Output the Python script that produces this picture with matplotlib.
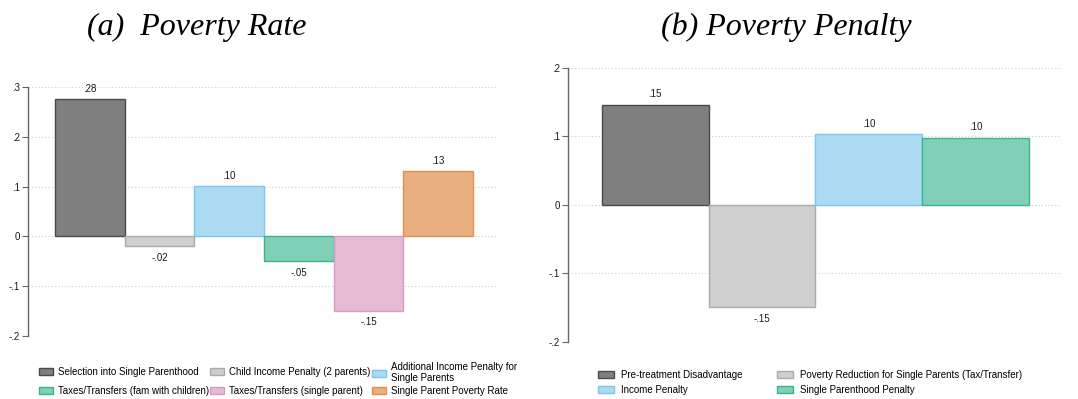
import numpy as np
import matplotlib.pyplot as plt
from matplotlib.patches import Patch

plt.rcParams['font.family'] = ['Liberation Sans', 'DejaVu Sans']

# panel (a): decomposition of the poverty rate
labels_a = ["Selection into Single Parenthood",
            "Child Income Penalty (2 parents)",
            "Additional Income Penalty for\nSingle Parents",
            "Taxes/Transfers (fam with children)",
            "Taxes/Transfers (single parent)",
            "Single Parent Poverty Rate"]
values_a = [0.276, -0.02, 0.101, -0.05, -0.149, 0.131]

# panel (b): decomposition of the poverty penalty
labels_b = ["Pre-treatment Disadvantage",
            "Poverty Reduction for Single Parents (Tax/Transfer)",
            "Income Penalty",
            "Single Parenthood Penalty"]
values_b = [0.146, -0.150, 0.1025, 0.0977]

fills = {'dgray': '#7f7f7f', 'lgray': '#cfcfcf', 'blue': '#acdaf3',
         'green': '#7fd0b6', 'pink': '#e6bad4', 'orange': '#e9ae7f'}
edges = {'dgray': '#4a4a4a', 'lgray': '#ababab', 'blue': '#79c6ef',
         'green': '#3bb38d', 'pink': '#d79cc2', 'orange': '#e4914f'}
colors_a = ['dgray', 'lgray', 'blue', 'green', 'pink', 'orange']
colors_b = ['dgray', 'lgray', 'blue', 'green']

W, H = 1078, 399


def fmt(v):
    # Stata style: drop the leading zero
    return '{:.2f}'.format(v).replace('0.', '.', 1)


def tick_fmt(v):
    if abs(v) < 1e-9:
        return '0'
    return '{:.1f}'.format(v).replace('0.', '.', 1)


def draw_panel(ax, values, cols, yticks, xlim):
    x = np.arange(1, len(values) + 1)
    ax.bar(x, values, width=1.0, color=[fills[c] for c in cols],
           edgecolor=[edges[c] for c in cols], linewidth=1.0, zorder=3)
    for xi, v in zip(x, values):
        off = 7.5 if v >= 0 else -8.5
        ax.annotate(fmt(v), xy=(xi, v), xytext=(0, off), textcoords='offset points',
                    ha='center', va='center', fontsize=7, color='#1a1a1a')
    ax.set_xlim(*xlim)
    ax.set_ylim(yticks[0], yticks[-1])
    ax.set_yticks(yticks)
    ax.set_yticklabels([tick_fmt(t) for t in yticks])
    ax.set_xticks([])
    for t in yticks:
        ax.axhline(t, color='#cccccc', linestyle=(0, (1, 2)), linewidth=0.8, zorder=1)
    for s in ['top', 'right', 'bottom']:
        ax.spines[s].set_visible(False)
    ax.spines['left'].set_color('#666666')
    ax.spines['left'].set_linewidth(1.0)
    ax.tick_params(axis='y', length=4, width=0.8, color='#666666',
                   labelsize=7, pad=2, labelcolor='#1a1a1a')


def legend_item(col, label, px, py, hlen, pad):
    h = Patch(facecolor=fills[col], edgecolor=edges[col], linewidth=1.0)
    fig.legend([h], [label], loc='center left', bbox_to_anchor=(px / W, 1 - py / H),
               frameon=False, fontsize=7, handlelength=hlen, handleheight=0.7,
               handletextpad=pad, borderpad=0, borderaxespad=0, labelspacing=0.1)


fig = plt.figure(figsize=(10.78, 3.99), dpi=100)

ax1 = fig.add_axes([0.026, 0.158, 0.436, 0.624])
draw_panel(ax1, values_a, colors_a, [-0.2, -0.1, 0, 0.1, 0.2, 0.3], (0.114, 6.857))

ax2 = fig.add_axes([0.527, 0.1436, 0.456, 0.687])
draw_panel(ax2, values_b, colors_b, [-0.2, -0.1, 0, 0.1, 0.2], (0.184, 4.79))

fig.text(197 / W, 1 - 27 / H, '(a)  Poverty Rate', family='Liberation Serif',
         style='italic', fontsize=23, ha='center', va='center')
fig.text(786 / W, 1 - 27 / H, '(b) Poverty Penalty', family='Liberation Serif',
         style='italic', fontsize=23, ha='center', va='center')

# legend for (a): three columns, two rows
cols_x_a = [39, 210, 372]
rows_y_a = [372, 391]
for i, (lab, c) in enumerate(zip(labels_a, colors_a)):
    r, k = divmod(i, 3)
    py = rows_y_a[r] if i != 2 else 372.5
    legend_item(c, lab, cols_x_a[k], py, 1.4, 0.6)

# legend for (b): two columns, two rows
cols_x_b = [598, 777]
rows_y_b = [375, 390]
for i, (lab, c) in enumerate(zip(labels_b, colors_b)):
    r, k = divmod(i, 2)
    legend_item(c, lab, cols_x_b[k], rows_y_b[r], 1.6, 0.8)

plt.savefig('out.png', dpi=100)
